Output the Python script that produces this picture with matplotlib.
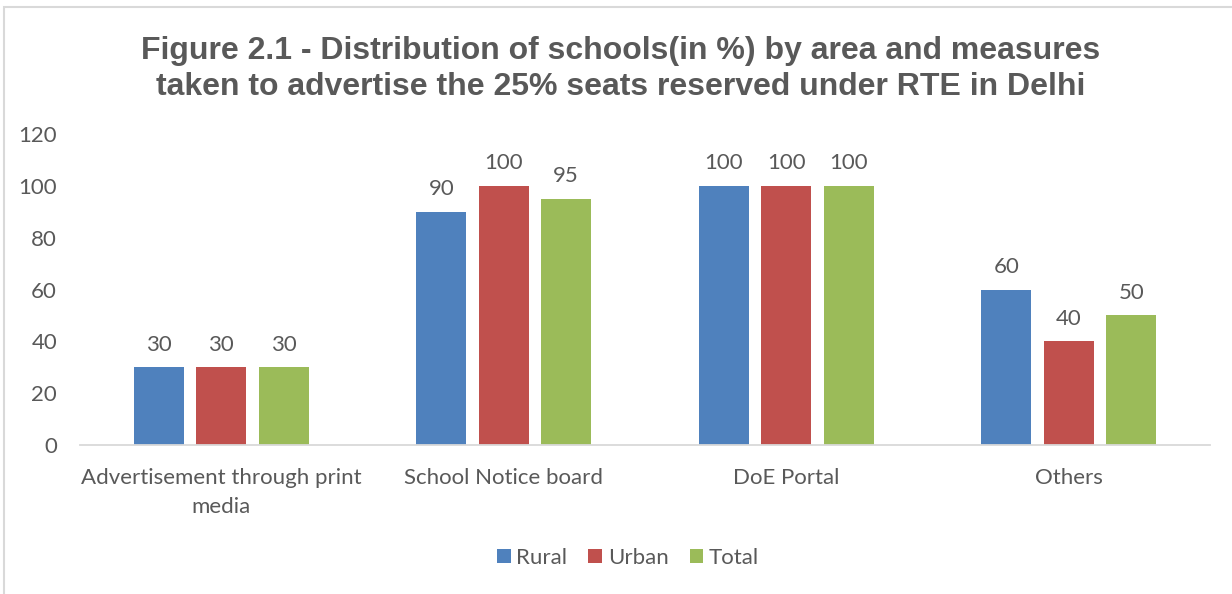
import matplotlib
matplotlib.use("Agg")
import matplotlib.pyplot as plt
from matplotlib.patches import Rectangle, Patch
import numpy as np

categories = ["Advertisement through print\nmedia", "School Notice board", "DoE Portal", "Others"]
series_names = ["Rural", "Urban", "Total"]
rural = [30, 90, 100, 60]
urban = [30, 100, 100, 40]
total = [30, 95, 100, 50]
yticks = [0, 20, 40, 60, 80, 100, 120]

colors = ["#4F81BD", "#C0504D", "#9BBB59"]
text_color = "#595959"
body_font = ["Lato", "DejaVu Sans"]
title_font = ["Liberation Sans", "DejaVu Sans"]
body_size = 16

W, H = 1232, 594
fig = plt.figure(figsize=(W / 100, H / 100), dpi=100)
fig.patch.set_facecolor("white")

# chart-area border (left and top edges visible)
fig.add_artist(Rectangle((4 / W, -0.1), 1.2, (H - 7) / H + 0.1, transform=fig.transFigure,
                         fill=False, edgecolor="#D9D9D9", linewidth=1.5))

ax = fig.add_axes([80 / W, 149 / H, 1130 / W, 311 / H])
x = np.arange(len(categories))
step = 0.221
width = 0.177
for i, (name, vals) in enumerate(zip(series_names, [rural, urban, total])):
    bars = ax.bar(x + (i - 1) * step, vals, width=width, color=colors[i], label=name, zorder=3)
    for b, v in zip(bars, vals):
        ax.annotate(f"{v}", (b.get_x() + b.get_width() / 2, v), xytext=(0, 9),
                    textcoords="offset points", ha="center", va="bottom",
                    fontsize=body_size, color=text_color, family=body_font)

ax.set_xlim(-0.5, len(categories) - 0.5)
ax.set_ylim(0, 120)
ax.set_yticks(yticks)
ax.set_xticks(x)
ax.set_xticklabels(categories, family=body_font, fontsize=body_size, color=text_color, linespacing=1.58)
ax.set_yticklabels([str(t) for t in yticks], family=body_font, fontsize=body_size, color=text_color)
ax.tick_params(axis="both", length=0)
ax.tick_params(axis="y", pad=16.5)
ax.tick_params(axis="x", pad=16.5)
for s in ["top", "right", "left"]:
    ax.spines[s].set_visible(False)
ax.spines["bottom"].set_color("#D9D9D9")
ax.spines["bottom"].set_linewidth(1.3)
ax.spines["bottom"].set_zorder(4)

fig.text(621 / W, 1 - 69 / H,
         "Figure 2.1 - Distribution of schools(in %) by area and measures\ntaken to advertise the 25% seats reserved under RTE in Delhi",
         ha="center", va="center", fontsize=23, fontweight="bold", color=text_color,
         family=title_font, linespacing=1.25)

handles = [Patch(facecolor=c, edgecolor="none") for c in colors]
leg = fig.legend(handles, series_names, loc="center", bbox_to_anchor=(628 / W, 1 - 558 / H),
                 ncol=3, frameon=False, handlelength=0.62, handleheight=0.62,
                 handletextpad=0.25, columnspacing=0.95,
                 prop={"family": body_font, "size": body_size})
for t in leg.get_texts():
    t.set_color(text_color)

fig.savefig("out.png", dpi=100, facecolor="white")
